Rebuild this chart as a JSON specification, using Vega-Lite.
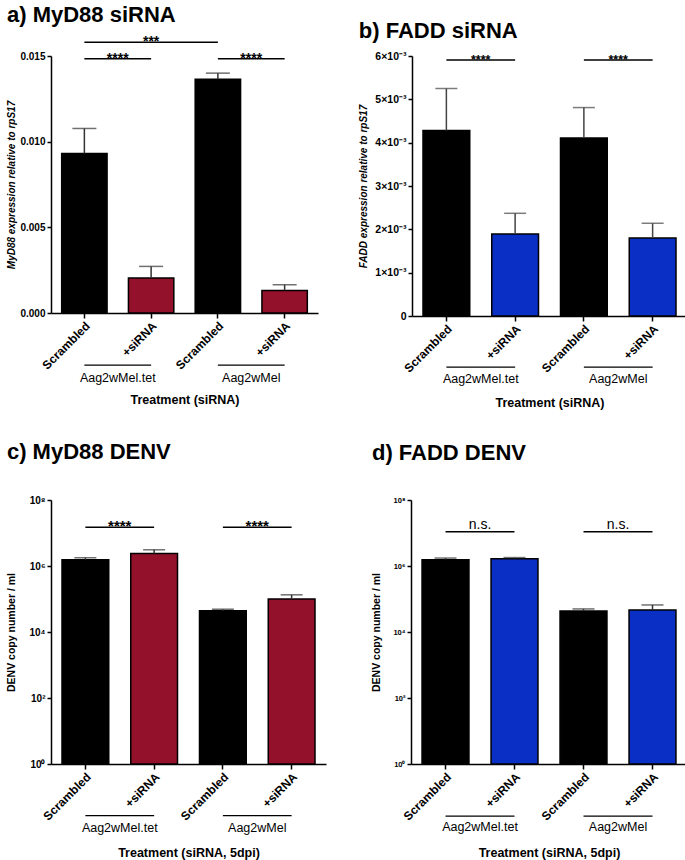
{
  "$schema": "https://vega.github.io/schema/vega-lite/v6.json",
  "padding": {"left": 6, "top": 4, "right": 2, "bottom": 2},
  "config": {
    "font": "Liberation Sans",
    "view": {"stroke": null},
    "axis": {"grid": false, "domainColor": "#000", "domainWidth": 1.5, "tickColor": "#000", "tickWidth": 1.5, "tickSize": 4, "labelColor": "#000", "labelFont": "Liberation Sans", "labelFontWeight": "bold", "titleColor": "#000", "titleFont": "Liberation Sans", "titleFontWeight": "bold"},
    "title": {"font": "Liberation Sans", "fontSize": 22, "fontWeight": "bold", "anchor": "start", "frame": "bounds", "color": "#000", "offset": 8}
  },
  "datasets": {
    "a": [
      {"bar": "Scrambled · Aag2wMel.tet", "treatment": "Scrambled", "mean": 0.00931, "upper": 0.01077},
      {"bar": "+siRNA · Aag2wMel.tet", "treatment": "+siRNA", "mean": 0.00205, "upper": 0.00272},
      {"bar": "Scrambled · Aag2wMel", "treatment": "Scrambled", "mean": 0.01364, "upper": 0.0140},
      {"bar": "+siRNA · Aag2wMel", "treatment": "+siRNA", "mean": 0.00132, "upper": 0.00165}
    ],
    "a_sig": [
      {"from": "Scrambled · Aag2wMel.tet", "to": "+siRNA · Aag2wMel.tet", "level": 0.01484, "label": "****", "span": "adjacent"},
      {"from": "Scrambled · Aag2wMel", "to": "+siRNA · Aag2wMel", "level": 0.01484, "label": "****", "span": "adjacent"},
      {"from": "Scrambled · Aag2wMel.tet", "to": "Scrambled · Aag2wMel", "level": 0.0158, "label": "***", "span": "wide"}
    ],
    "b": [
      {"bar": "Scrambled · Aag2wMel.tet", "treatment": "Scrambled", "mean": 0.00428, "upper": 0.00525},
      {"bar": "+siRNA · Aag2wMel.tet", "treatment": "+siRNA", "mean": 0.00189, "upper": 0.00237},
      {"bar": "Scrambled · Aag2wMel", "treatment": "Scrambled", "mean": 0.00411, "upper": 0.00481},
      {"bar": "+siRNA · Aag2wMel", "treatment": "+siRNA", "mean": 0.0018, "upper": 0.00214}
    ],
    "b_sig": [
      {"from": "Scrambled · Aag2wMel.tet", "to": "+siRNA · Aag2wMel.tet", "level": 0.00591, "label": "****"},
      {"from": "Scrambled · Aag2wMel", "to": "+siRNA · Aag2wMel", "level": 0.00591, "label": "****"}
    ],
    "c": [
      {"bar": "Scrambled · Aag2wMel.tet", "treatment": "Scrambled", "mean": 1550000, "upper": 1780000},
      {"bar": "+siRNA · Aag2wMel.tet", "treatment": "+siRNA", "mean": 2400000, "upper": 3100000},
      {"bar": "Scrambled · Aag2wMel", "treatment": "Scrambled", "mean": 43700, "upper": 49000},
      {"bar": "+siRNA · Aag2wMel", "treatment": "+siRNA", "mean": 100000, "upper": 134000}
    ],
    "c_sig": [
      {"from": "Scrambled · Aag2wMel.tet", "to": "+siRNA · Aag2wMel.tet", "level": 15000000, "label": "****"},
      {"from": "Scrambled · Aag2wMel", "to": "+siRNA · Aag2wMel", "level": 15000000, "label": "****"}
    ],
    "d": [
      {"bar": "Scrambled · Aag2wMel.tet", "treatment": "Scrambled", "mean": 1560000, "upper": 1740000},
      {"bar": "+siRNA · Aag2wMel.tet", "treatment": "+siRNA", "mean": 1670000, "upper": 1800000},
      {"bar": "Scrambled · Aag2wMel", "treatment": "Scrambled", "mean": 43400, "upper": 50000},
      {"bar": "+siRNA · Aag2wMel", "treatment": "+siRNA", "mean": 46500, "upper": 66000}
    ],
    "d_sig": [
      {"from": "Scrambled · Aag2wMel.tet", "to": "+siRNA · Aag2wMel.tet", "level": 11000000, "label": "n.s."},
      {"from": "Scrambled · Aag2wMel", "to": "+siRNA · Aag2wMel", "level": 11000000, "label": "n.s."}
    ],
    "groups": [
      {"from": "Scrambled · Aag2wMel.tet", "to": "+siRNA · Aag2wMel.tet", "name": "Aag2wMel.tet"},
      {"from": "Scrambled · Aag2wMel", "to": "+siRNA · Aag2wMel", "name": "Aag2wMel"}
    ]
  },
  "resolve": {"scale": {"color": "independent"}},
  "vconcat": [
    {
      "spacing": 40,
      "resolve": {"scale": {"color": "independent"}},
      "hconcat": [
        {
          "title": {"text": "a) MyD88 siRNA"},
          "width": 267, "height": 257,
          "layer": [
            {
              "data": {"name": "a"},
              "mark": {"type": "bar", "stroke": "#000", "strokeWidth": 1.5},
              "encoding": {
                "x": {"field": "bar", "type": "nominal", "sort": null,
                  "scale": {"domain": ["Scrambled · Aag2wMel.tet", "+siRNA · Aag2wMel.tet", "Scrambled · Aag2wMel", "+siRNA · Aag2wMel"], "paddingInner": 0.32, "paddingOuter": 0.16},
                  "axis": {"title": "Treatment (siRNA)", "titleFontSize": 12.5, "titlePadding": 22, "labelAngle": -45, "labelFontSize": 12, "tickSize": 5, "labelExpr": "split(datum.label, ' · ')[0]"}},
                "y": {"field": "mean", "type": "quantitative",
                  "scale": {"domain": [0, 0.015], "nice": false},
                  "axis": {"title": "MyD88 expression relative to rpS17", "titleFontStyle": "italic", "titleFontSize": 10, "titlePadding": 3, "values": [0, 0.005, 0.01, 0.015], "format": ".3f", "labelFontSize": 10, "labelPadding": 2}},
                "color": {"field": "treatment", "type": "nominal", "scale": {"domain": ["Scrambled", "+siRNA"], "range": ["#000000", "#93112B"]}, "legend": null}
              }
            },
            {
              "data": {"name": "a"},
              "mark": {"type": "rule", "color": "#333", "strokeWidth": 1.5},
              "encoding": {"x": {"field": "bar", "type": "nominal"}, "y": {"field": "mean", "type": "quantitative"}, "y2": {"field": "upper"}}
            },
            {
              "data": {"name": "a"},
              "mark": {"type": "tick", "color": "#333", "thickness": 1.5, "size": 24, "orient": "horizontal"},
              "encoding": {"x": {"field": "bar", "type": "nominal"}, "y": {"field": "upper", "type": "quantitative"}}
            },
            {
              "data": {"name": "a_sig"},
              "mark": {"type": "rule", "color": "#000", "strokeWidth": 1.5},
              "encoding": {"x": {"field": "from", "type": "nominal", "bandPosition": 0.5}, "x2": {"field": "to", "bandPosition": 0.5}, "y": {"field": "level", "type": "quantitative"}}
            },
            {
              "data": {"name": "a_sig"},
              "transform": [{"filter": "datum.span == 'adjacent'"}],
              "mark": {"type": "text", "fontSize": 14, "fontWeight": "bold", "baseline": "alphabetic", "dy": 4},
              "encoding": {"x": {"field": "from", "type": "nominal", "bandPosition": 1.235}, "y": {"field": "level", "type": "quantitative"}, "text": {"field": "label"}}
            },
            {
              "data": {"name": "a_sig"},
              "transform": [{"filter": "datum.span == 'wide'"}],
              "mark": {"type": "text", "fontSize": 14, "fontWeight": "bold", "baseline": "alphabetic", "dy": 4},
              "encoding": {"x": {"field": "from", "type": "nominal", "bandPosition": 1.9706}, "y": {"field": "level", "type": "quantitative"}, "text": {"field": "label"}}
            },
            {
              "data": {"name": "groups"},
              "mark": {"type": "rule", "color": "#000", "strokeWidth": 1.2},
              "encoding": {"x": {"field": "from", "type": "nominal", "bandPosition": 0.5}, "x2": {"field": "to", "bandPosition": 0.5}, "y": {"datum": -0.00304}}
            },
            {
              "data": {"name": "groups"},
              "mark": {"type": "text", "fontSize": 12.5, "baseline": "middle"},
              "encoding": {"x": {"field": "from", "type": "nominal", "bandPosition": 1.235}, "y": {"datum": -0.0038}, "text": {"field": "name"}}
            }
          ]
        },
        {
          "title": {"text": "b) FADD siRNA"},
          "width": 275, "height": 260,
          "layer": [
            {
              "data": {"name": "b"},
              "mark": {"type": "bar", "stroke": "#000", "strokeWidth": 1.5},
              "encoding": {
                "x": {"field": "bar", "type": "nominal", "sort": null,
                  "scale": {"domain": ["Scrambled · Aag2wMel.tet", "+siRNA · Aag2wMel.tet", "Scrambled · Aag2wMel", "+siRNA · Aag2wMel"], "paddingInner": 0.32, "paddingOuter": 0.16},
                  "axis": {"title": "Treatment (siRNA)", "titleFontSize": 12.5, "titlePadding": 22, "labelAngle": -45, "labelFontSize": 12, "tickSize": 5, "labelExpr": "split(datum.label, ' · ')[0]"}},
                "y": {"field": "mean", "type": "quantitative",
                  "scale": {"domain": [0, 0.006], "nice": false},
                  "axis": {"title": "FADD expression relative to rpS17", "titleFontStyle": "italic", "titleFontSize": 10, "titlePadding": 6, "values": [0, 0.001, 0.002, 0.003, 0.004, 0.005, 0.006], "labelExpr": "datum.value == 0 ? '0' : format(datum.value * 1000, '.0f') + '×10⁻³'", "labelFontSize": 10.5, "labelPadding": 2}},
                "color": {"field": "treatment", "type": "nominal", "scale": {"domain": ["Scrambled", "+siRNA"], "range": ["#000000", "#0A2FC4"]}, "legend": null}
              }
            },
            {
              "data": {"name": "b"},
              "mark": {"type": "rule", "color": "#444", "strokeWidth": 1.5},
              "encoding": {"x": {"field": "bar", "type": "nominal"}, "y": {"field": "mean", "type": "quantitative"}, "y2": {"field": "upper"}}
            },
            {
              "data": {"name": "b"},
              "mark": {"type": "tick", "color": "#444", "thickness": 1.5, "size": 22, "orient": "horizontal"},
              "encoding": {"x": {"field": "bar", "type": "nominal"}, "y": {"field": "upper", "type": "quantitative"}}
            },
            {
              "data": {"name": "b_sig"},
              "mark": {"type": "rule", "color": "#000", "strokeWidth": 1.5},
              "encoding": {"x": {"field": "from", "type": "nominal", "bandPosition": 0.5}, "x2": {"field": "to", "bandPosition": 0.5}, "y": {"field": "level", "type": "quantitative"}}
            },
            {
              "data": {"name": "b_sig"},
              "mark": {"type": "text", "fontSize": 12.5, "fontWeight": "bold", "baseline": "alphabetic", "dy": 4},
              "encoding": {"x": {"field": "from", "type": "nominal", "bandPosition": 1.235}, "y": {"field": "level", "type": "quantitative"}, "text": {"field": "label"}}
            },
            {
              "data": {"name": "groups"},
              "mark": {"type": "rule", "color": "#000", "strokeWidth": 1.2},
              "encoding": {"x": {"field": "from", "type": "nominal", "bandPosition": 0.5}, "x2": {"field": "to", "bandPosition": 0.5}, "y": {"datum": -0.00118}}
            },
            {
              "data": {"name": "groups"},
              "mark": {"type": "text", "fontSize": 12.5, "baseline": "middle"},
              "encoding": {"x": {"field": "from", "type": "nominal", "bandPosition": 1.235}, "y": {"datum": -0.00145}, "text": {"field": "name"}}
            }
          ]
        }
      ]
    },
    {
      "spacing": 45,
      "resolve": {"scale": {"color": "independent"}},
      "hconcat": [
        {
          "title": {"text": "c) MyD88 DENV", "offset": 31},
          "width": 275, "height": 264,
          "layer": [
            {
              "data": {"name": "c"},
              "mark": {"type": "bar", "stroke": "#000", "strokeWidth": 1.5},
              "encoding": {
                "x": {"field": "bar", "type": "nominal", "sort": null,
                  "scale": {"domain": ["Scrambled · Aag2wMel.tet", "+siRNA · Aag2wMel.tet", "Scrambled · Aag2wMel", "+siRNA · Aag2wMel"], "paddingInner": 0.32, "paddingOuter": 0.16},
                  "axis": {"title": "Treatment (siRNA, 5dpi)", "titleFontSize": 12.5, "titlePadding": 24, "labelAngle": -45, "labelFontSize": 12, "tickSize": 5, "labelExpr": "split(datum.label, ' · ')[0]"}},
                "y": {"field": "mean", "type": "quantitative",
                  "scale": {"type": "log", "domain": [1, 100000000], "nice": false},
                  "axis": {"title": "DENV copy number / ml", "titleFontSize": 10.5, "titlePadding": 12, "values": [1, 100, 10000, 1000000, 100000000], "labelExpr": "datum.value == 1 ? '10⁰' : datum.value == 100 ? '10²' : datum.value == 10000 ? '10⁴' : datum.value == 1000000 ? '10⁶' : '10⁸'", "labelFontSize": 10, "labelPadding": 2}},
                "y2": {"datum": 1},
                "color": {"field": "treatment", "type": "nominal", "scale": {"domain": ["Scrambled", "+siRNA"], "range": ["#000000", "#93112B"]}, "legend": null}
              }
            },
            {
              "data": {"name": "c"},
              "mark": {"type": "rule", "color": "#333", "strokeWidth": 1.5},
              "encoding": {"x": {"field": "bar", "type": "nominal"}, "y": {"field": "mean", "type": "quantitative"}, "y2": {"field": "upper"}}
            },
            {
              "data": {"name": "c"},
              "mark": {"type": "tick", "color": "#333", "thickness": 1.5, "size": 22, "orient": "horizontal"},
              "encoding": {"x": {"field": "bar", "type": "nominal"}, "y": {"field": "upper", "type": "quantitative"}}
            },
            {
              "data": {"name": "c_sig"},
              "mark": {"type": "rule", "color": "#000", "strokeWidth": 1.5},
              "encoding": {"x": {"field": "from", "type": "nominal", "bandPosition": 0.5}, "x2": {"field": "to", "bandPosition": 0.5}, "y": {"field": "level", "type": "quantitative"}}
            },
            {
              "data": {"name": "c_sig"},
              "mark": {"type": "text", "fontSize": 15, "fontWeight": "bold", "baseline": "alphabetic", "dy": 4},
              "encoding": {"x": {"field": "from", "type": "nominal", "bandPosition": 1.235}, "y": {"field": "level", "type": "quantitative"}, "text": {"field": "label"}}
            },
            {
              "data": {"name": "groups"},
              "mark": {"type": "rule", "color": "#000", "strokeWidth": 1.2},
              "encoding": {"x": {"field": "from", "type": "nominal", "bandPosition": 0.5}, "x2": {"field": "to", "bandPosition": 0.5}, "y": {"datum": 0.0273}}
            },
            {
              "data": {"name": "groups"},
              "mark": {"type": "text", "fontSize": 12.5, "baseline": "middle"},
              "encoding": {"x": {"field": "from", "type": "nominal", "bandPosition": 1.235}, "y": {"datum": 0.0115}, "text": {"field": "name"}}
            }
          ]
        },
        {
          "title": {"text": "d) FADD DENV", "offset": 31},
          "width": 276, "height": 264,
          "layer": [
            {
              "data": {"name": "d"},
              "mark": {"type": "bar", "stroke": "#000", "strokeWidth": 1.5},
              "encoding": {
                "x": {"field": "bar", "type": "nominal", "sort": null,
                  "scale": {"domain": ["Scrambled · Aag2wMel.tet", "+siRNA · Aag2wMel.tet", "Scrambled · Aag2wMel", "+siRNA · Aag2wMel"], "paddingInner": 0.32, "paddingOuter": 0.16},
                  "axis": {"title": "Treatment (siRNA, 5dpi)", "titleFontSize": 12.5, "titlePadding": 24, "labelAngle": -45, "labelFontSize": 12, "tickSize": 5, "labelExpr": "split(datum.label, ' · ')[0]"}},
                "y": {"field": "mean", "type": "quantitative",
                  "scale": {"type": "log", "domain": [1, 100000000], "nice": false},
                  "axis": {"title": "DENV copy number / ml", "titleFontSize": 10.5, "titlePadding": 11, "values": [1, 100, 10000, 1000000, 100000000], "labelExpr": "datum.value == 1 ? '10⁰' : datum.value == 100 ? '10²' : datum.value == 10000 ? '10⁴' : datum.value == 1000000 ? '10⁶' : '10⁸'", "labelFontSize": 7.5, "labelPadding": 2}},
                "y2": {"datum": 1},
                "color": {"field": "treatment", "type": "nominal", "scale": {"domain": ["Scrambled", "+siRNA"], "range": ["#000000", "#0A2FC4"]}, "legend": null}
              }
            },
            {
              "data": {"name": "d"},
              "mark": {"type": "rule", "color": "#333", "strokeWidth": 1.5},
              "encoding": {"x": {"field": "bar", "type": "nominal"}, "y": {"field": "mean", "type": "quantitative"}, "y2": {"field": "upper"}}
            },
            {
              "data": {"name": "d"},
              "mark": {"type": "tick", "color": "#333", "thickness": 1.5, "size": 22, "orient": "horizontal"},
              "encoding": {"x": {"field": "bar", "type": "nominal"}, "y": {"field": "upper", "type": "quantitative"}}
            },
            {
              "data": {"name": "d_sig"},
              "mark": {"type": "rule", "color": "#000", "strokeWidth": 1.5},
              "encoding": {"x": {"field": "from", "type": "nominal", "bandPosition": 0.5}, "x2": {"field": "to", "bandPosition": 0.5}, "y": {"field": "level", "type": "quantitative"}}
            },
            {
              "data": {"name": "d_sig"},
              "mark": {"type": "text", "fontSize": 14, "baseline": "alphabetic", "dy": -3},
              "encoding": {"x": {"field": "from", "type": "nominal", "bandPosition": 1.235}, "y": {"field": "level", "type": "quantitative"}, "text": {"field": "label"}}
            },
            {
              "data": {"name": "groups"},
              "mark": {"type": "rule", "color": "#000", "strokeWidth": 1.2},
              "encoding": {"x": {"field": "from", "type": "nominal", "bandPosition": 0.5}, "x2": {"field": "to", "bandPosition": 0.5}, "y": {"datum": 0.0265}}
            },
            {
              "data": {"name": "groups"},
              "mark": {"type": "text", "fontSize": 12.5, "baseline": "middle"},
              "encoding": {"x": {"field": "from", "type": "nominal", "bandPosition": 1.235}, "y": {"datum": 0.0121}, "text": {"field": "name"}}
            }
          ]
        }
      ]
    }
  ],
  "spacing": 32
}
